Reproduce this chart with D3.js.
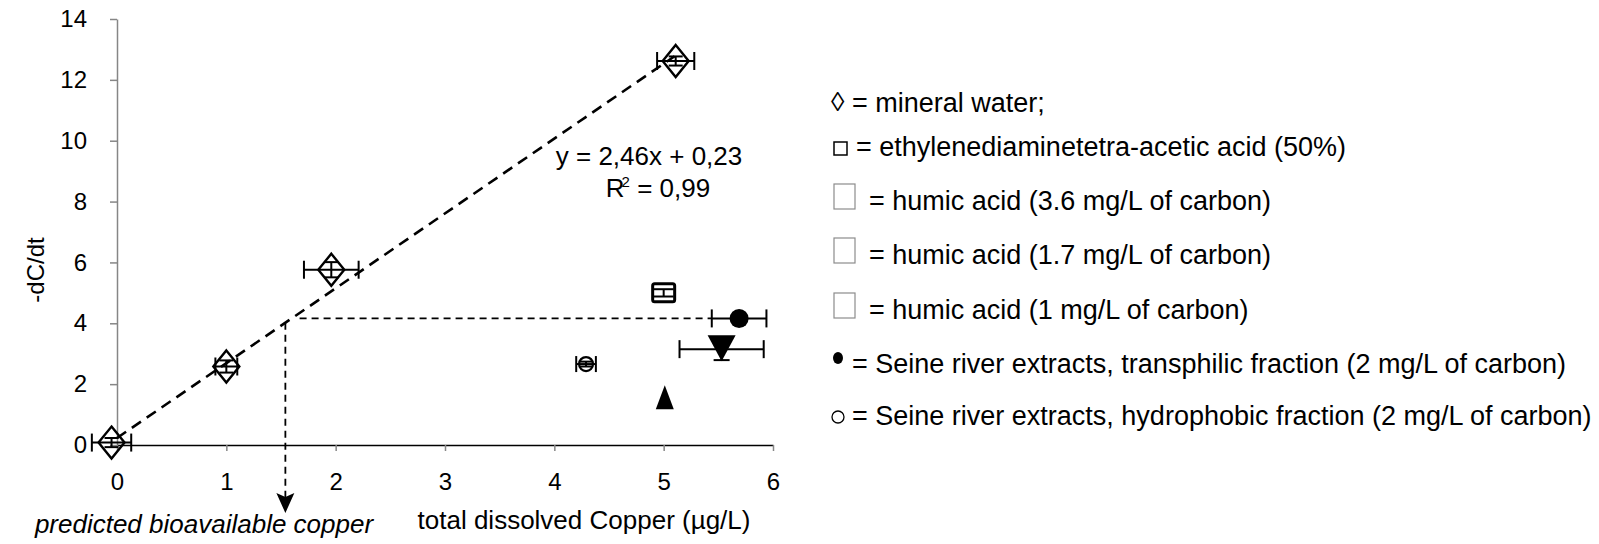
<!DOCTYPE html>
<html>
<head>
<meta charset="utf-8">
<script src="https://cdn.jsdelivr.net/npm/d3@7"></script>
<style>
  body { margin: 0; background: #fff; }
  text { font-family: Arial, "Liberation Sans", sans-serif; fill: #000; }
</style>
</head>
<body>
<div id="chart"></div>
<script>
// ---- data ----
var xTicks = [0, 1, 2, 3, 4, 5, 6];
var yTicks = [0, 2, 4, 6, 8, 10, 12, 14];

// mineral water (diamonds)
var mineralX = [-0.05, 1, 1.96, 5.11];
var mineralY = [0.08, 2.58, 5.76, 12.62];
var mineralXErr = [0.18, 0.1, 0.25, 0.17];
var mineralYErr = [0.15, 0.2, 0.25, 0.15];

// EDTA (square)
var edtaX = [5.0];
var edtaY = [5.0];
var edtaYErr = [0.12];

// humic acid (triangles)
var humicDownX = [5.53];
var humicDownY = [3.15];
var humicDownXErr = [0.385];
var humicDownYErr = [0.36];
var humicUpX = [5.01];
var humicUpY = [1.54];

// Seine river extracts
var transX = [5.69];
var transY = [4.16];
var transXErr = [0.25];
var hydroX = [4.29];
var hydroY = [2.66];
var hydroXErr = [0.09];

// linear fit through mineral water
var fitSlope = 2.46;
var fitIntercept = 0.23;
var fitRange = [0, 5.1];
var predictedX = 1.54;
var guideStartX = 1.67;

var legendLabels = [
  "= mineral water;",
  "= ethylenediaminetetra-acetic acid (50%)",
  "= humic acid (3.6 mg/L of carbon)",
  "= humic acid (1.7 mg/L of carbon)",
  "= humic acid (1 mg/L of carbon)",
  "= Seine river extracts, transphilic fraction (2 mg/L of carbon)",
  "= Seine river extracts, hydrophobic fraction (2 mg/L of carbon)"
];
var legendSymbols = ["\u25CA", "\u25A1", "box", "box", "box", "\u25CF", "\u25CB"];

// ---- layout ----
var W = 1599, H = 544;
var mLeft = 117, mRight = 773, mTop = 19, mBottom = 445;
var fs = 26, tickFs = 24, legendFs = 27;

var svg = d3.select('#chart').append('svg').attr('width', W).attr('height', H);

var x = d3.scaleLinear().domain([0, 6]).range([mLeft, mRight]);
var y = d3.scaleLinear().domain([0, 14]).range([mBottom, mTop]);

// axes
var yAxis = svg.append('g').attr('transform', 'translate(' + mLeft + ',0)')
  .call(d3.axisLeft(y).tickValues(yTicks).tickFormat(d3.format('d')).tickSize(7).tickPadding(23).tickSizeOuter(0));
yAxis.select('.domain').attr('stroke', '#868686').attr('stroke-width', 1.5);
yAxis.selectAll('.tick line').attr('stroke', '#868686').attr('stroke-width', 1.5);
yAxis.selectAll('.tick text').attr('font-size', tickFs).attr('font-family', 'Arial, "Liberation Sans", sans-serif')
  .attr('fill', '#000');

var xAxis = svg.append('g').attr('transform', 'translate(0,' + mBottom + ')')
  .call(d3.axisBottom(x).tickValues(xTicks).tickFormat(d3.format('d')).tickSize(6).tickPadding(22).tickSizeOuter(0));
xAxis.select('.domain').attr('stroke', '#000').attr('stroke-width', 1.5);
xAxis.selectAll('.tick line').attr('stroke', '#868686').attr('stroke-width', 1.5);
xAxis.selectAll('.tick text').attr('font-size', tickFs).attr('font-family', 'Arial, "Liberation Sans", sans-serif')
  .attr('fill', '#000');

// axis titles
svg.append('text').attr('transform', 'translate(44,270) rotate(-90)')
  .attr('text-anchor', 'middle').attr('font-size', tickFs).text('-dC/dt');
svg.append('text').attr('x', 584).attr('y', 529)
  .attr('text-anchor', 'middle').attr('font-size', fs).text('total dissolved Copper (µg/L)');
svg.append('text').attr('x', 204).attr('y', 533)
  .attr('text-anchor', 'middle').attr('font-size', fs).attr('font-style', 'italic')
  .text('predicted bioavailable copper');

// trend line
var fitLine = d3.line()
  .x(function(d) { return x(d); })
  .y(function(d) { return y(fitSlope * d + fitIntercept); });
svg.append('path').datum(fitRange).attr('d', fitLine)
  .attr('fill', 'none').attr('stroke', '#000').attr('stroke-width', 2.6)
  .attr('stroke-dasharray', '11,7');

svg.append('text').attr('x', 649).attr('y', 165).attr('text-anchor', 'middle')
  .attr('font-size', fs).text('y = 2,46x + 0,23');
var r2 = svg.append('text').attr('x', 658).attr('y', 197).attr('text-anchor', 'middle')
  .attr('font-size', fs);
r2.append('tspan').text('R');
r2.append('tspan').attr('font-size', 15).attr('dy', -10).attr('dx', -3).text('2');
r2.append('tspan').attr('dy', 10).text(' = 0,99');

// prediction guides
var predY = fitSlope * predictedX + fitIntercept;
svg.append('line')
  .attr('x1', x(predictedX)).attr('x2', x(predictedX))
  .attr('y1', y(predY)).attr('y2', mBottom + 55)
  .attr('stroke', '#000').attr('stroke-width', 1.8).attr('stroke-dasharray', '7,5');
svg.append('path')
  .attr('d', 'M' + (x(predictedX) - 9) + ',' + (mBottom + 48) + 'L' + x(predictedX) + ',' + (mBottom + 52) +
    'L' + (x(predictedX) + 9) + ',' + (mBottom + 48) + 'L' + x(predictedX) + ',' + (mBottom + 68) + 'Z')
  .attr('fill', '#000');
svg.append('line')
  .attr('x1', x(guideStartX)).attr('x2', x(transX[0] - transXErr[0]))
  .attr('y1', y(transY[0])).attr('y2', y(transY[0]))
  .attr('stroke', '#000').attr('stroke-width', 1.8).attr('stroke-dasharray', '7,5');

// error bar helpers
function xErrBar(cx, cy, err, cap) {
  var g = svg.append('g').attr('stroke', '#000').attr('stroke-width', 2);
  g.append('line').attr('x1', x(cx - err)).attr('x2', x(cx + err)).attr('y1', y(cy)).attr('y2', y(cy));
  [cx - err, cx + err].forEach(function (v) {
    g.append('line').attr('x1', x(v)).attr('x2', x(v)).attr('y1', y(cy) - cap / 2).attr('y2', y(cy) + cap / 2);
  });
}
function yErrBar(cx, cy, err, cap) {
  var g = svg.append('g').attr('stroke', '#000').attr('stroke-width', 2);
  g.append('line').attr('x1', x(cx)).attr('x2', x(cx)).attr('y1', y(cy - err)).attr('y2', y(cy + err));
  [cy - err, cy + err].forEach(function (v) {
    g.append('line').attr('x1', x(cx) - cap / 2).attr('x2', x(cx) + cap / 2).attr('y1', y(v)).attr('y2', y(v));
  });
}

// mineral water
mineralX.forEach(function (d, i) {
  xErrBar(d, mineralY[i], mineralXErr[i], 18);
  yErrBar(d, mineralY[i], mineralYErr[i], 14);
});
svg.selectAll('.diamond').data(mineralX).enter().append('path')
  .attr('class', 'diamond')
  .attr('d', function(d, i) {
    var cx = x(d), cy = y(mineralY[i]);
    return 'M' + cx + ',' + (cy - 16) + 'L' + (cx + 13) + ',' + cy + 'L' + cx + ',' + (cy + 16) + 'L' + (cx - 13) + ',' + cy + 'Z';
  })
  .attr('fill', 'none').attr('stroke', '#000').attr('stroke-width', 2.4);

// EDTA
edtaX.forEach(function (d, i) {
  svg.append('rect').attr('x', x(d) - 11).attr('y', y(edtaY[i]) - 9).attr('width', 22).attr('height', 18)
    .attr('rx', 2).attr('fill', 'none').attr('stroke', '#000').attr('stroke-width', 3);
  yErrBar(d, edtaY[i], edtaYErr[i], 20);
});

// humic acid triangles
humicDownX.forEach(function (d, i) {
  xErrBar(d, humicDownY[i], humicDownXErr[i], 18);
  yErrBar(d, humicDownY[i], humicDownYErr[i], 16);
  var cx = x(d), cy = y(humicDownY[i]);
  svg.append('path').attr('d', 'M' + (cx - 14) + ',' + (cy - 14) + 'L' + (cx + 14) + ',' + (cy - 14) + 'L' + cx + ',' + (cy + 12) + 'Z')
    .attr('fill', '#000');
});
humicUpX.forEach(function (d, i) {
  var cx = x(d), cy = y(humicUpY[i]);
  svg.append('path').attr('d', 'M' + cx + ',' + (cy - 13) + 'L' + (cx + 9) + ',' + (cy + 11) + 'L' + (cx - 9) + ',' + (cy + 11) + 'Z')
    .attr('fill', '#000');
});

// Seine extracts
transX.forEach(function (d, i) {
  xErrBar(d, transY[i], transXErr[i], 18);
  svg.append('circle').attr('cx', x(d)).attr('cy', y(transY[i])).attr('r', 9.5).attr('fill', '#000');
});
hydroX.forEach(function (d, i) {
  xErrBar(d, hydroY[i], hydroXErr[i], 16);
  yErrBar(d, hydroY[i], 0.08, 14);
  svg.append('circle').attr('cx', x(d)).attr('cy', y(hydroY[i])).attr('r', 7).attr('fill', 'none')
    .attr('stroke', '#000').attr('stroke-width', 2.2);
});

// legend
var legendBase = [112, 156, 210, 264, 319, 373, 425];
var legend = svg.append('g');
legendLabels.forEach(function (label, i) {
  var sym = legendSymbols[i];
  var tx = 852;
  if (sym === 'box') {
    legend.append('rect').attr('x', 834).attr('y', legendBase[i] - 26).attr('width', 21).attr('height', 25)
      .attr('fill', 'none').attr('stroke', '#8c8c8c').attr('stroke-width', 1.2);
    tx = 869;
  } else if (sym === '\u25A1') {
    legend.append('rect').attr('x', 834).attr('y', legendBase[i] - 14).attr('width', 13).attr('height', 13)
      .attr('fill', 'none').attr('stroke', '#000').attr('stroke-width', 1.5);
    tx = 856;
  } else if (sym === '\u25CF') {
    legend.append('ellipse').attr('cx', 838).attr('cy', legendBase[i] - 15).attr('rx', 5).attr('ry', 6).attr('fill', '#000');
    tx = 852;
  } else if (sym === '\u25CB') {
    legend.append('circle').attr('cx', 838).attr('cy', legendBase[i] - 8).attr('r', 6)
      .attr('fill', 'none').attr('stroke', '#000').attr('stroke-width', 1.3);
    tx = 852;
  } else {
    legend.append('text').attr('x', 831).attr('y', legendBase[i] - 1).attr('font-size', legendFs).text(sym);
  }
  legend.append('text').attr('x', tx).attr('y', legendBase[i]).attr('font-size', legendFs).text(label);
});
</script>
</body>
</html>
